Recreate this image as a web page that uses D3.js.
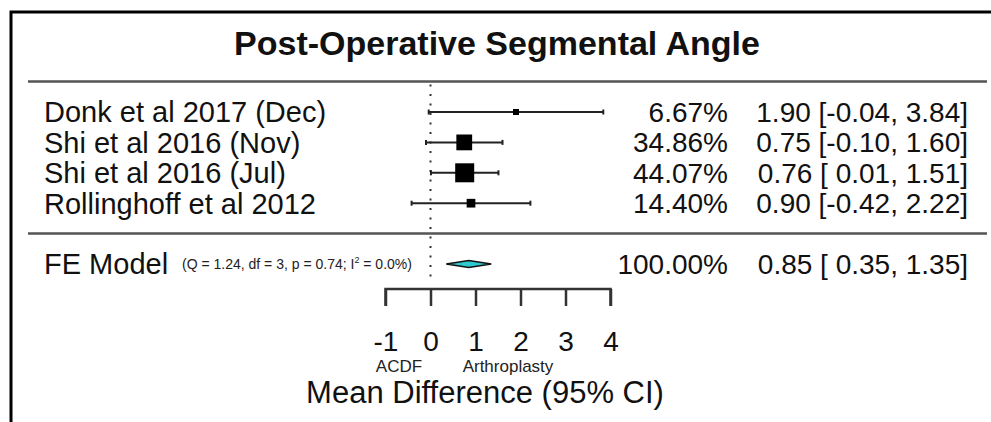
<!DOCTYPE html>
<html>
<head>
<meta charset="utf-8">
<script src="https://cdn.jsdelivr.net/npm/d3@7"></script>
<style>
  body { margin: 0; background: #fff; }
  svg { display: block; font-family: "Liberation Sans", Arial, sans-serif; }
  text { white-space: pre; }
</style>
</head>
<body>
<script>
// study rows (top to bottom)
const studies = ["Donk et al 2017 (Dec)", "Shi et al 2016 (Nov)", "Shi et al 2016 (Jul)", "Rollinghoff et al 2012"];
const estimates = [1.90, 0.75, 0.76, 0.90];
const lowerCI = [-0.04, -0.10, 0.01, -0.42];
const upperCI = [3.84, 1.60, 1.51, 2.22];
const weights = [6.67, 34.86, 44.07, 14.40];
const ciLabels = ["1.90 [-0.04, 3.84]", "0.75 [-0.10, 1.60]", "0.76 [ 0.01, 1.51]", "0.90 [-0.42, 2.22]"];

// pooled model
const modelLabel = "FE Model";
const modelStats = ["(Q = 1.24, df = 3, p = 0.74; I", "2", " = 0.0%)"];
const modelEstimate = [0.85, 0.35, 1.35]; // est, lower, upper
const modelWeight = "100.00%";
const modelCiLabel = "0.85 [ 0.35, 1.35]";

const xTicks = [-1, 0, 1, 2, 3, 4];
const sideLabels = ["ACDF", "Arthroplasty"];
const chartTitle = "Post-Operative Segmental Angle";
const xTitle = "Mean Difference (95% CI)";

document.addEventListener("DOMContentLoaded", () => {
  const width = 991;
  const height = 422;

  const svg = d3.select('body')
    .append('svg')
    .attr('width', width)
    .attr('height', height);

  // metafor style row positions: studies k..1, model at -1
  const x = d3.scaleLinear().domain([-1, 4]).range([385.5, 610.5]);
  const y = d3.scaleLinear().domain([4, -1]).range([112, 264]);
  const boxSize = d3.scaleLinear().domain([6.67, 44.07]).range([6, 19]);

  const rows = studies.map((s, i) => ({
    name: s, est: estimates[i], lo: lowerCI[i], hi: upperCI[i], w: weights[i], ci: ciLabels[i], pos: 4 - i
  }));

  // frame (left + top only, rest is cropped)
  svg.append('path')
    .attr('d', `M11,${height} L11,12 L${width},12`)
    .attr('fill', 'none')
    .attr('stroke', '#000')
    .attr('stroke-width', 3);

  svg.append('text')
    .attr('x', 497)
    .attr('y', 55)
    .attr('text-anchor', 'middle')
    .attr('font-size', 34)
    .attr('font-weight', 'bold')
    .attr('fill', '#111')
    .text(chartTitle);

  // separators
  [5, 0].forEach(p => {
    svg.append('line')
      .attr('x1', 28).attr('x2', 987)
      .attr('y1', y(p)).attr('y2', y(p))
      .attr('stroke', '#555')
      .attr('stroke-width', 2.5);
  });

  // reference line at 0
  svg.append('line')
    .attr('x1', x(0)).attr('x2', x(0))
    .attr('y1', y(5) + 3).attr('y2', 279)
    .attr('stroke', '#333')
    .attr('stroke-width', 2)
    .attr('stroke-dasharray', '2,7.5');

  const g = svg.selectAll('g.study')
    .data(rows)
    .enter()
    .append('g')
    .attr('class', 'study');

  g.append('line')
    .attr('x1', d => x(d.lo)).attr('x2', d => x(d.hi))
    .attr('y1', d => y(d.pos)).attr('y2', d => y(d.pos))
    .attr('stroke', '#222')
    .attr('stroke-width', 2);

  // little end caps
  ['lo', 'hi'].forEach(k => {
    g.append('line')
      .attr('x1', d => x(d[k])).attr('x2', d => x(d[k]))
      .attr('y1', d => y(d.pos) - 2.5).attr('y2', d => y(d.pos) + 2.5)
      .attr('stroke', '#222')
      .attr('stroke-width', 2);
  });

  g.append('rect')
    .attr('x', d => x(d.est) - boxSize(d.w) / 2)
    .attr('y', d => y(d.pos) - boxSize(d.w) / 2)
    .attr('width', d => boxSize(d.w))
    .attr('height', d => boxSize(d.w))
    .attr('fill', '#000');

  g.append('text')
    .attr('x', 44)
    .attr('y', d => y(d.pos))
    .attr('dy', '0.36em')
    .attr('font-size', 29)
    .attr('fill', '#111')
    .text(d => d.name);

  g.append('text')
    .attr('x', 728)
    .attr('y', d => y(d.pos))
    .attr('dy', '0.36em')
    .attr('text-anchor', 'end')
    .attr('font-size', 28)
    .attr('fill', '#111')
    .text(d => d.w.toFixed(2) + '%');

  g.append('text')
    .attr('x', 968)
    .attr('y', d => y(d.pos))
    .attr('dy', '0.36em')
    .attr('text-anchor', 'end')
    .attr('font-size', 28)
    .attr('fill', '#111')
    .text(d => d.ci);

  // model row
  const my = y(-1);
  svg.append('text')
    .attr('x', 44).attr('y', my).attr('dy', '0.36em')
    .attr('font-size', 29).attr('fill', '#111')
    .text(modelLabel);

  const stats = svg.append('text')
    .attr('x', 182).attr('y', my).attr('dy', '0.36em')
    .attr('font-size', 14).attr('fill', '#222');
  stats.append('tspan').text(modelStats[0]);
  stats.append('tspan').attr('dy', -6).attr('font-size', 9).text(modelStats[1]);
  stats.append('tspan').attr('dy', 6).text(modelStats[2]);

  svg.append('polygon')
    .attr('points', [
      [x(modelEstimate[1]), my],
      [x(modelEstimate[0]), my - 3.5],
      [x(modelEstimate[2]), my],
      [x(modelEstimate[0]), my + 3.5]
    ].join(' '))
    .attr('fill', '#2ec8cf')
    .attr('stroke', '#111')
    .attr('stroke-width', 1.5);

  svg.append('text')
    .attr('x', 728).attr('y', my).attr('dy', '0.36em')
    .attr('text-anchor', 'end').attr('font-size', 28).attr('fill', '#111')
    .text(modelWeight);

  svg.append('text')
    .attr('x', 968).attr('y', my).attr('dy', '0.36em')
    .attr('text-anchor', 'end').attr('font-size', 28).attr('fill', '#111')
    .text(modelCiLabel);

  // x axis
  const axis = svg.append('g')
    .attr('transform', 'translate(0,289)')
    .call(d3.axisBottom(x).tickValues(xTicks).tickSize(17).tickPadding(25).tickFormat(d3.format('d')));

  axis.select('.domain').attr('stroke', '#333').attr('stroke-width', 2.5)
    .attr('d', `M${x(-1)},17V0H${x(4)}V17`);
  axis.selectAll('.tick line').attr('stroke', '#333').attr('stroke-width', 2.5);
  axis.selectAll('.tick text')
    .attr('font-size', 28)
    .attr('font-family', '"Liberation Sans", Arial, sans-serif')
    .attr('fill', '#111')
    .text(d => d < 0 ? '-' + Math.abs(d) : d);

  svg.append('text')
    .attr('x', 399).attr('y', 372)
    .attr('text-anchor', 'middle').attr('font-size', 17).attr('fill', '#222')
    .text(sideLabels[0]);

  svg.append('text')
    .attr('x', 508).attr('y', 372)
    .attr('text-anchor', 'middle').attr('font-size', 17).attr('fill', '#222')
    .text(sideLabels[1]);

  svg.append('text')
    .attr('x', 485).attr('y', 403)
    .attr('text-anchor', 'middle').attr('font-size', 31).attr('fill', '#111')
    .text(xTitle);
});
</script>
</body>
</html>
